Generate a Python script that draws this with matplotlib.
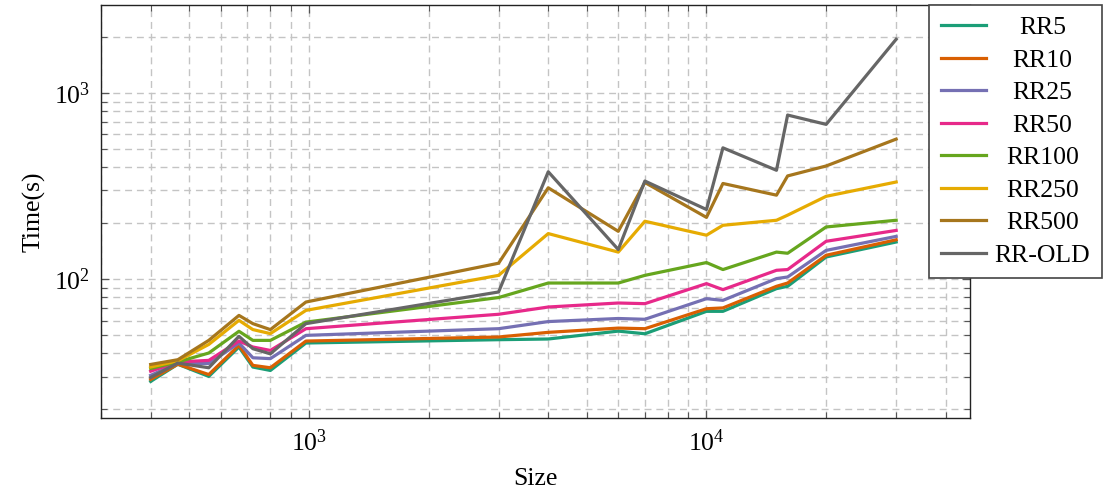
"""
Run time of the RR variants against problem size, log-log.
"""

import matplotlib
matplotlib.use("Agg")
import matplotlib.pyplot as plt
from matplotlib.ticker import LogLocator, NullFormatter

plt.rcParams["font.family"] = ["Liberation Serif", "DejaVu Serif"]
plt.rcParams["mathtext.fontset"] = "custom"
plt.rcParams["mathtext.rm"] = "Liberation Serif"
plt.rcParams["font.size"] = 18.5

sizes = [400, 468, 560, 667, 723, 800, 983, 3000, 4000, 6000, 7000,
         10000, 11000, 15000, 16000, 20000, 30000]

rr5 = [28.3, 35, 30.1, 43.3, 33.8, 32.4, 45.5, 47.4, 47.8, 52.7, 51,
       67.3, 67.3, 89.1, 91.7, 131.8, 158.6]
rr10 = [29.0, 35, 30.8, 44.2, 34.5, 33.5, 46.6, 49, 51.9, 54.7, 54.3,
        69.5, 70.2, 91.7, 95.5, 134.6, 163]
rr25 = [30.5, 35.5, 35.3, 45.5, 37.9, 37.5, 50, 54.3, 59.3, 61.6, 61,
        78.7, 77.1, 100.9, 102.9, 143, 170]
rr50 = [32.1, 36, 36.7, 46.6, 43.3, 41.5, 54.3, 64.9, 71, 74.6, 74,
        94.8, 88, 111.8, 112.8, 160, 183]
rr100 = [33.2, 36, 40.2, 52.6, 47, 47, 58.9, 79.8, 95.5, 95.5, 105,
         123, 112.8, 140, 138, 191, 207.5]
rr250 = [33.8, 36.5, 44.7, 60.2, 53.7, 51.1, 68.1, 105, 176, 140, 205,
         172.5, 195, 207.5, 221, 279, 333]
rr500 = [34.9, 37, 47, 64, 57.8, 53.7, 75.5, 122, 310, 181, 331,
         215, 327, 283, 359, 406, 566]
rr_old = [29.7, 35.5, 33.5, 49.4, 42.4, 39.8, 57.8, 85.5, 378, 144.5, 337,
          237, 508, 385, 762, 679, 1945]

labels = ["RR5", "RR10", "RR25", "RR50", "RR100", "RR250", "RR500", "RR-OLD"]
series = [rr5, rr10, rr25, rr50, rr100, rr250, rr500, rr_old]
colors = ["#1b9e77", "#d95f02", "#7570b3", "#e7298a",
          "#66a61e", "#e6ab02", "#a6761d", "#666666"]

fig = plt.figure(figsize=(11.05, 4.92), dpi=100)
ax = fig.add_axes([0.0914, 0.1504, 0.7864, 0.8394])

for vals, lab, col in zip(series, labels, colors):
    ax.plot(sizes, vals, color=col, lw=2.3, label=lab)

ax.set_xscale("log")
ax.set_yscale("log")
ax.set_xlim(300, 46000)
ax.set_ylim(18.0, 2970)

for axis in (ax.xaxis, ax.yaxis):
    axis.set_major_locator(LogLocator(base=10))
    axis.set_minor_locator(LogLocator(base=10, subs=range(2, 10)))
    axis.set_minor_formatter(NullFormatter())

ax.grid(True, which="both", color="#c4c4c4", lw=1.0, ls=(0, (5, 3.5)))
ax.set_axisbelow(True)
ax.tick_params(which="both", direction="in", top=True, right=True,
               color="#555555")
ax.tick_params(which="major", length=6, width=0.9)
ax.tick_params(which="minor", length=4, width=0.8)
ax.tick_params(axis="x", pad=8)
ax.tick_params(axis="y", pad=8)
for sp in ax.spines.values():
    sp.set_color("#222222")
    sp.set_linewidth(1.0)

ax.set_xlabel("Size", labelpad=9)
ax.set_ylabel("Time(s)", labelpad=6)

leg = fig.legend(loc="upper left", bbox_to_anchor=(0.8407, 0.9904),
                 bbox_transform=fig.transFigure, borderaxespad=0,
                 fancybox=False, framealpha=1, edgecolor="#444444",
                 handlelength=1.75, handletextpad=0.35, labelspacing=0.37,
                 borderpad=0.45)
leg.get_frame().set_linewidth(1.2)

# centre the entry texts inside the legend column
fig.canvas.draw()
rend = fig.canvas.get_renderer()
widths = [t.get_window_extent(rend).width for t in leg.get_texts()]
wmax = max(widths)
for t, w in zip(leg.get_texts(), widths):
    t.set_x((wmax - w) / 2)

fig.savefig("out.png", dpi=100)
